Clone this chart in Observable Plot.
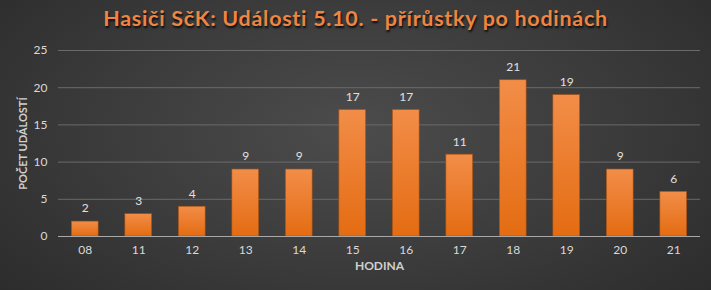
<!DOCTYPE html>
<html><head><meta charset="utf-8">
<script src="https://cdn.jsdelivr.net/npm/d3@7"></script>
<script src="https://cdn.jsdelivr.net/npm/@observablehq/plot@0.6"></script>
<style>
html,body{margin:0;padding:0;background:#333;}
#wrap{position:relative;width:711px;height:290px;overflow:hidden;
 background:radial-gradient(ellipse 70% 90% at 50% 45%, #4c4c4c 0%, #3a3a3a 55%, #2a2a2a 100%);}
#title{position:absolute;left:0;top:5px;width:711px;text-align:center;
 font-family:Lato,"Open Sans",sans-serif;font-weight:bold;font-size:21.5px;letter-spacing:0.7px;
 color:#ee8542;text-shadow:1px 2px 2px rgba(0,0,0,0.8);}
svg{position:absolute;left:0;top:0;}
</style></head>
<body><div id="wrap"><div id="title">Hasiči SčK: Události 5.10. - přírůstky po hodinách</div></div>
<script>
const hours = ["08","11","12","13","14","15","16","17","18","19","20","21"];
const counts = [2,3,4,9,9,17,17,11,21,19,9,6];
const yTicks = [0,5,10,15,20,25];
const data = hours.map((h,i)=>({hour:h, count:counts[i]}));

const chart = Plot.plot({
  width:711, height:290,
  marginLeft:58, marginRight:11, marginTop:50, marginBottom:54,
  style:{background:"transparent", color:"#d9d9d9", fontFamily:"Lato, 'Open Sans', sans-serif", fontSize:"12px"},
  x:{domain:hours, paddingInner:0.5, paddingOuter:0.25, align:0.5, round:false, label:null, tickSize:0, tickPadding:9},
  y:{domain:[0,25], ticks:yTicks, label:null, tickSize:0, tickPadding:11},
  marks:[
    Plot.gridY(yTicks.filter(d=>d>0), {stroke:"#6a6a6a", strokeOpacity:1, strokeWidth:1}),
    Plot.barY(data, {x:"hour", y:"count", fill:"url(#barGrad)", stroke:"#a9500f", strokeWidth:0.6}),
    Plot.ruleY([0], {stroke:"#a8a8a8", strokeWidth:1.2}),
    Plot.axisX({tickSize:0, tickPadding:9, label:null, fill:"#d9d9d9"}),
    Plot.axisY({ticks:yTicks, tickSize:0, tickPadding:11, label:null, fill:"#d9d9d9"}),
    Plot.text(data, {x:"hour", y:"count", text:d=>String(d.count), dy:-13, fill:"#e0e0e0", fontSize:12}),
    Plot.text(["HODINA"], {frameAnchor:"bottom", dy:33, fill:"#d0d0d0", fontWeight:"bold", fontSize:12}),
    Plot.text(["POČET UDÁLOSTÍ"], {frameAnchor:"left", textAnchor:"middle", dx:-35, rotate:-90, fill:"#d0d0d0", fontWeight:"bold", fontSize:11})
  ]
});
const defs = d3.select(chart).insert("defs", ":first-child");
const g = defs.append("linearGradient").attr("id","barGrad").attr("x1",0).attr("y1",0).attr("x2",0).attr("y2",1);
g.append("stop").attr("offset","0%").attr("stop-color","#f28d48");
g.append("stop").attr("offset","100%").attr("stop-color","#e46c12");
document.getElementById("wrap").appendChild(chart);
</script></body></html>
